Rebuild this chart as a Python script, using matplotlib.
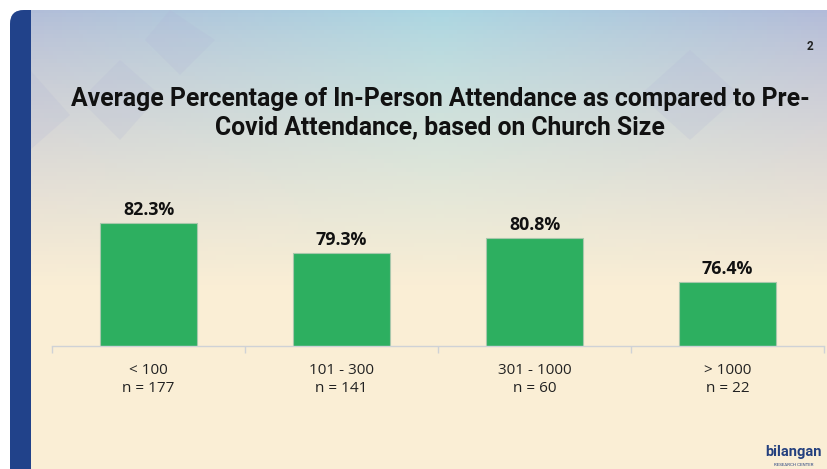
import matplotlib.pyplot as plt
import numpy as np
from matplotlib.patches import FancyBboxPatch, Rectangle, Polygon

# chart data
categories = ["< 100", "101 - 300", "301 - 1000", "> 1000"]
counts = [177, 141, 60, 22]
values = [82.3, 79.3, 80.8, 76.4]

title = "Average Percentage of In-Person Attendance as compared to Pre-\nCovid Attendance, based on Church Size"

W, H = 827, 469
fig = plt.figure(figsize=(W / 100, H / 100), dpi=100)
fig.patch.set_facecolor("white")

# slide background
bg = fig.add_axes([0, 0, 1, 1], zorder=0)
bg.set_xlim(0, W)
bg.set_ylim(H, 0)
bg.axis("off")

xs = np.linspace(0, 1, 200)
ys = np.linspace(0, 1, 120)
X, Y = np.meshgrid(xs, ys)
top_l = np.array([178, 188, 216]) / 255
top_c = np.array([170, 214, 226]) / 255
top_r = np.array([178, 184, 216]) / 255
cream = np.array([250, 238, 213]) / 255
wl = np.clip(1 - X / 0.5, 0, 1)[..., None]
wr = np.clip((X - 0.5) / 0.5, 0, 1)[..., None]
top = wl * top_l + wr * top_r + (1 - wl - wr) * top_c
t = np.clip(Y / 0.55, 0, 1)[..., None] ** 0.8
img = top * (1 - t) + cream * t

slide = FancyBboxPatch((10, 10), 860, 500, boxstyle="round,pad=0,rounding_size=14",
                       facecolor="none", edgecolor="none")
bg.add_patch(slide)
im = bg.imshow(img, extent=[10, 870, 510, 10], aspect="auto", zorder=1)
im.set_clip_path(slide)

# faded diamonds
diamonds = [
    [(170, 10), (215, 40), (180, 75), (145, 40)],
    [(30, 70), (70, 115), (30, 150)],
    [(120, 60), (160, 95), (120, 140), (80, 100)],
    [(690, 50), (740, 95), (690, 140), (640, 95)],
]
for d in diamonds:
    p = Polygon(d, closed=True, facecolor="#b0b4d6", edgecolor="none", alpha=0.18, zorder=2)
    bg.add_patch(p)
    p.set_clip_path(slide)

bar = Rectangle((10, 10), 21, 500, facecolor="#21428a", edgecolor="none", zorder=3)
bg.add_patch(bar)
bar.set_clip_path(slide)

bg.text(440, 113, title, ha="center", va="center", fontsize=17.8, fontweight="bold",
        family="Roboto", color="#111111", linespacing=1.2, zorder=4)
bg.text(810, 46, "2", ha="center", va="center", fontsize=8.5, fontweight="bold",
        family="Roboto", color="#222222", zorder=4)
bg.text(794, 452, "bilangan", ha="center", va="center", fontsize=10.5, fontweight="bold",
        family="Roboto", color="#24407e", zorder=4)
bg.text(794, 465, "RESEARCH CENTER", ha="center", va="center", fontsize=3.2,
        family="Roboto", color="#24407e", zorder=4)

# bar chart
ax = fig.add_axes([52 / W, 123 / H, 772 / W, 150 / H], zorder=5)
ax.patch.set_alpha(0)
x = np.arange(len(categories))
ax.bar(x, values, width=0.5, color="#2daf60", edgecolor="#a8c8ac", linewidth=0.8)
ax.set_xlim(-0.5, 3.5)
ax.set_ylim(70, 85)
for xi, v in zip(x, values):
    ax.text(xi, v + 0.45, f"{v:.1f}%", ha="center", va="bottom", fontsize=12.8,
            fontweight="bold", family="Open Sans", color="#111111")

for s in ["top", "right", "left"]:
    ax.spines[s].set_visible(False)
ax.spines["bottom"].set_color("#cfd2d6")
ax.spines["bottom"].set_linewidth(1)
ax.set_yticks([])
ax.set_xticks(x)
ax.set_xticklabels([f"{c}\nn = {n}" for c, n in zip(categories, counts)],
                   fontsize=11, family="Open Sans", color="#222222", linespacing=1.3)
ax.tick_params(axis="x", which="major", length=0, pad=12)
ax.set_xticks(np.arange(-0.5, 4, 1), minor=True)
ax.tick_params(axis="x", which="minor", length=5, color="#cfd2d6", width=1)

fig.savefig("out.png", dpi=100)
